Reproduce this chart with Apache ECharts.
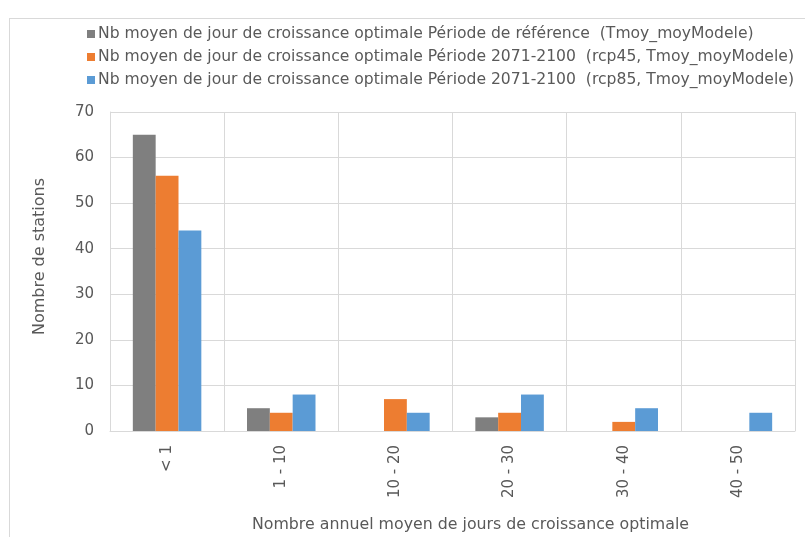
<!DOCTYPE html>
<html>
<head>
<meta charset="utf-8">
<script src="https://cdn.jsdelivr.net/npm/echarts@6/dist/echarts.min.js"></script>
<style>
  html, body { margin: 0; padding: 0; background: #fff; }
  #frame { position: absolute; left: 9px; top: 18px; width: 800px; height: 530px; border-left: 1px solid #d9d9d9; border-top: 1px solid #d9d9d9; }
  #chart { position: absolute; left: 0; top: 0; width: 805px; height: 537px; }
</style>
</head>
<body>
<div id="frame"></div>
<div id="chart"></div>
<script>
const categories = ["< 1", "1 - 10", "10 - 20", "20 - 30", "30 - 40", "40 - 50"];
const seriesNames = [
  "Nb moyen de jour de croissance optimale Période de référence  (Tmoy_moyModele)",
  "Nb moyen de jour de croissance optimale Période 2071-2100  (rcp45, Tmoy_moyModele)",
  "Nb moyen de jour de croissance optimale Période 2071-2100  (rcp85, Tmoy_moyModele)"
];
const reference = [65, 5, 0, 3, 0, 0];
const rcp45 = [56, 4, 7, 4, 2, 0];
const rcp85 = [44, 8, 4, 8, 5, 4];
const colors = ["#7f7f7f", "#ed7d31", "#5b9bd5"];

const textColor = "#595959";
const font = "DejaVu Sans, Arial, sans-serif";

const chart = echarts.init(document.getElementById("chart"));
const option = {
  animation: false,
  color: colors,
  textStyle: { fontFamily: font },
  legend: {
    orient: "vertical",
    left: 82,
    top: 21,
    itemWidth: 8,
    itemHeight: 8,
    itemGap: 7,
    icon: "rect",
    textStyle: { color: textColor, fontSize: 15.6, fontFamily: font, padding: [0, 0, 0, -2] },
    data: seriesNames
  },
  grid: { left: 110, right: 10, top: 112, bottom: 106, outerBoundsMode: "none" },
  xAxis: {
    type: "category",
    data: categories,
    name: "Nombre annuel moyen de jours de croissance optimale",
    nameLocation: "middle",
    nameGap: 86,
    nameTextStyle: { color: textColor, fontSize: 15.8, fontFamily: font, padding: [0, 0, 0, 36] },
    axisLine: { lineStyle: { color: "#d9d9d9" } },
    axisTick: { show: false },
    axisLabel: { rotate: 90, color: textColor, fontSize: 15, margin: 14, fontFamily: font },
    splitLine: { show: true, lineStyle: { color: "#d9d9d9" } }
  },
  yAxis: {
    type: "value",
    min: 0,
    max: 70,
    interval: 10,
    name: "Nombre de stations",
    nameLocation: "middle",
    nameRotate: 90,
    nameGap: 62,
    nameTextStyle: { color: textColor, fontSize: 16, fontFamily: font, padding: [0, 0, 0, 30] },
    axisLine: { show: true, lineStyle: { color: "#d9d9d9" } },
    axisTick: { show: false },
    axisLabel: { color: textColor, fontSize: 15, margin: 16, fontFamily: font },
    splitLine: { lineStyle: { color: "#d9d9d9" } }
  },
  series: [
    { name: seriesNames[0], type: "bar", data: reference, barGap: "0%", barCategoryGap: "40%" },
    { name: seriesNames[1], type: "bar", data: rcp45, barGap: "0%", barCategoryGap: "40%" },
    { name: seriesNames[2], type: "bar", data: rcp85, barGap: "0%", barCategoryGap: "40%" }
  ]
};
chart.setOption(option);
</script>
</body>
</html>
